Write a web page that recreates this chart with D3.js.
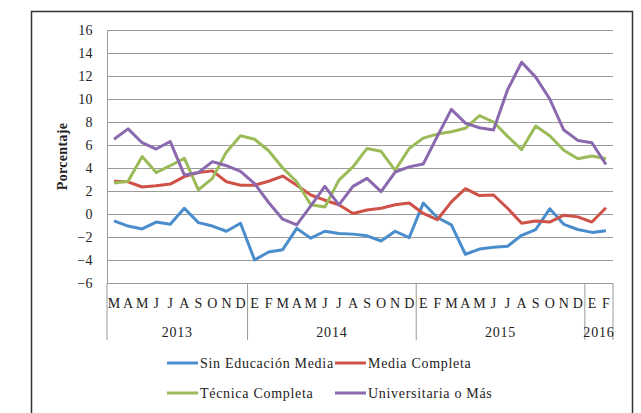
<!DOCTYPE html>
<html>
<head>
<meta charset="utf-8">
<script src="https://cdn.jsdelivr.net/npm/d3@7"></script>
<style>
  body { margin: 0; background: #fff; }
  svg text { font-family: "Liberation Serif", "DejaVu Serif", serif; fill: #222; }
</style>
</head>
<body>
<div id="container"></div>
<script>
// Month labels (E = enero ... D = diciembre), from March 2013 to February 2016
var months = ["M","A","M","J","J","A","S","O","N","D",
              "E","F","M","A","M","J","J","A","S","O","N","D",
              "E","F","M","A","M","J","J","A","S","O","N","D",
              "E","F"];
var years = ["2013", "2014", "2015", "2016"];
var yearCounts = [10, 12, 12, 2];
var yTicks = [-6, -4, -2, 0, 2, 4, 6, 8, 10, 12, 14, 16];

// Series values (percent)
var sinEducacion = [-0.6, -1.05, -1.3, -0.7, -0.9, 0.5, -0.75, -1.05, -1.5, -0.8,
                    -4.0, -3.3, -3.1, -1.25, -2.1, -1.5, -1.7, -1.75, -1.9, -2.35, -1.5, -2.05,
                    0.95, -0.3, -0.95, -3.5, -3.05, -2.9, -2.8, -1.85, -1.35, 0.45, -0.9, -1.35,
                    -1.6, -1.45];
var mediaCompleta = [2.85, 2.8, 2.35, 2.45, 2.6, 3.25, 3.6, 3.75, 2.8, 2.5,
                     2.5, 2.85, 3.3, 2.5, 1.65, 1.2, 0.8, 0.05, 0.35, 0.5, 0.8, 0.95,
                     0.05, -0.5, 1.05, 2.2, 1.6, 1.65, 0.5, -0.8, -0.6, -0.7, -0.1, -0.25,
                     -0.7, 0.55];
var tecnicaCompleta = [2.7, 2.85, 5.0, 3.6, 4.2, 4.85, 2.1, 3.1, 5.4, 6.8,
                       6.5, 5.5, 4.0, 2.8, 0.8, 0.6, 2.95, 4.1, 5.7, 5.45, 3.8, 5.7,
                       6.6, 6.95, 7.15, 7.45, 8.55, 8.0, 6.75, 5.6, 7.65, 6.8, 5.55, 4.8,
                       5.05, 4.8];
var universitaria = [6.5, 7.4, 6.2, 5.65, 6.3, 3.4, 3.6, 4.55, 4.2, 3.7,
                     2.65, 1.0, -0.45, -0.95, 0.7, 2.4, 0.8, 2.4, 3.1, 1.95, 3.65, 4.1,
                     4.35, 6.75, 9.1, 7.9, 7.5, 7.3, 10.8, 13.2, 11.9, 10.0, 7.3, 6.4,
                     6.2, 4.3];

var seriesNames = ["Sin Educación Media", "Media Completa", "Técnica Completa", "Universitaria o Más"];
var seriesValues = [sinEducacion, mediaCompleta, tecnicaCompleta, universitaria];
var colours = ["#4a8dcc", "#cf5249", "#9bbb59", "#8a69ae"];

var width = 641, height = 413;
var plot = {left: 107, right: 613, top: 30, bottom: 283};

var canvas = d3.select("div#container")
    .append("svg")
    .attr("width", width)
    .attr("height", height);

// outer frame of the chart (bottom runs past the window)
canvas.append("rect")
    .attr("x", 31.5).attr("y", 11.5)
    .attr("width", 601).attr("height", 420)
    .attr("fill", "none")
    .attr("stroke", "#333")
    .attr("stroke-width", 1.5);

var xScale = d3.scaleBand()
    .domain(d3.range(months.length))
    .range([plot.left, plot.right])
    .padding(0);

var yScale = d3.scaleLinear()
    .domain([-6, 16])
    .range([plot.bottom, plot.top]);

// horizontal gridlines
canvas.append("g")
    .attr("class", "grid")
    .selectAll("line")
    .data(yTicks)
    .enter()
    .append("line")
    .attr("x1", plot.left)
    .attr("x2", plot.right)
    .attr("y1", function(d){ return Math.round(yScale(d)) + 0.5; })
    .attr("y2", function(d){ return Math.round(yScale(d)) + 0.5; })
    .attr("stroke", "#9a9a9a")
    .attr("stroke-width", 1);

// y axis
var yAxis = d3.axisLeft(yScale)
    .tickValues(yTicks)
    .tickSize(0)
    .tickPadding(14);

var yAxisG = canvas.append("g")
    .attr("transform", "translate(" + plot.left + ",0)")
    .call(yAxis);
yAxisG.select(".domain").attr("stroke", "#9a9a9a");
yAxisG.selectAll("text")
    .style("font-size", "14px")
    .style("font-family", "Liberation Serif, serif")
    .style("letter-spacing", "0.4px")
    .attr("fill", "#222");

canvas.append("text")
    .attr("transform", "translate(67," + ((plot.top + plot.bottom) / 2) + ") rotate(-90)")
    .attr("text-anchor", "middle")
    .style("font-size", "14px")
    .style("font-weight", "bold")
    .style("letter-spacing", "0.3px")
    .text("Porcentaje");

// category axis: month letters
canvas.append("g")
    .selectAll("text")
    .data(months)
    .enter()
    .append("text")
    .attr("x", function(d, i){ return xScale(i) + xScale.bandwidth() / 2; })
    .attr("y", 308)
    .attr("text-anchor", "middle")
    .style("font-size", "14px")
    .text(function(d){ return d; });

// year groups and separators
var starts = [0];
yearCounts.forEach(function(c, i){ starts.push(starts[i] + c); });

canvas.append("g")
    .selectAll("line")
    .data(starts)
    .enter()
    .append("line")
    .attr("x1", function(d){ return d < months.length ? xScale(d) : plot.right; })
    .attr("x2", function(d){ return d < months.length ? xScale(d) : plot.right; })
    .attr("y1", plot.bottom)
    .attr("y2", 340)
    .attr("stroke", "#9a9a9a")
    .attr("stroke-width", 1);

canvas.append("g")
    .selectAll("text")
    .data(years)
    .enter()
    .append("text")
    .attr("x", function(d, i){
        var x0 = xScale(starts[i]);
        var x1 = starts[i + 1] < months.length ? xScale(starts[i + 1]) : plot.right;
        return (x0 + x1) / 2;
    })
    .attr("y", 337)
    .attr("text-anchor", "middle")
    .style("font-size", "14px")
    .style("letter-spacing", "0.8px")
    .text(function(d){ return d; });

// series lines
var line = d3.line()
    .x(function(d, i){ return xScale(i) + xScale.bandwidth() / 2; })
    .y(function(d){ return yScale(d); });

canvas.append("g")
    .selectAll("path")
    .data(seriesValues)
    .enter()
    .append("path")
    .attr("d", line)
    .attr("fill", "none")
    .attr("stroke", function(d, i){ return colours[i]; })
    .attr("stroke-width", 3)
    .attr("stroke-linejoin", "round");

// legend, two rows of two
var legendX = [167, 335];
var legendY = [363, 393];
var legend = canvas.append("g")
    .selectAll("g")
    .data(seriesNames)
    .enter()
    .append("g")
    .attr("transform", function(d, i){
        return "translate(" + legendX[i % 2] + "," + legendY[Math.floor(i / 2)] + ")";
    });

legend.append("line")
    .attr("x1", 0).attr("x2", 31)
    .attr("y1", 0).attr("y2", 0)
    .attr("stroke", function(d, i){ return colours[i]; })
    .attr("stroke-width", 3);

legend.append("text")
    .attr("x", 33)
    .attr("y", 5)
    .style("font-size", "14px")
    .style("letter-spacing", "0.7px")
    .text(function(d){ return d; });
</script>
</body>
</html>
